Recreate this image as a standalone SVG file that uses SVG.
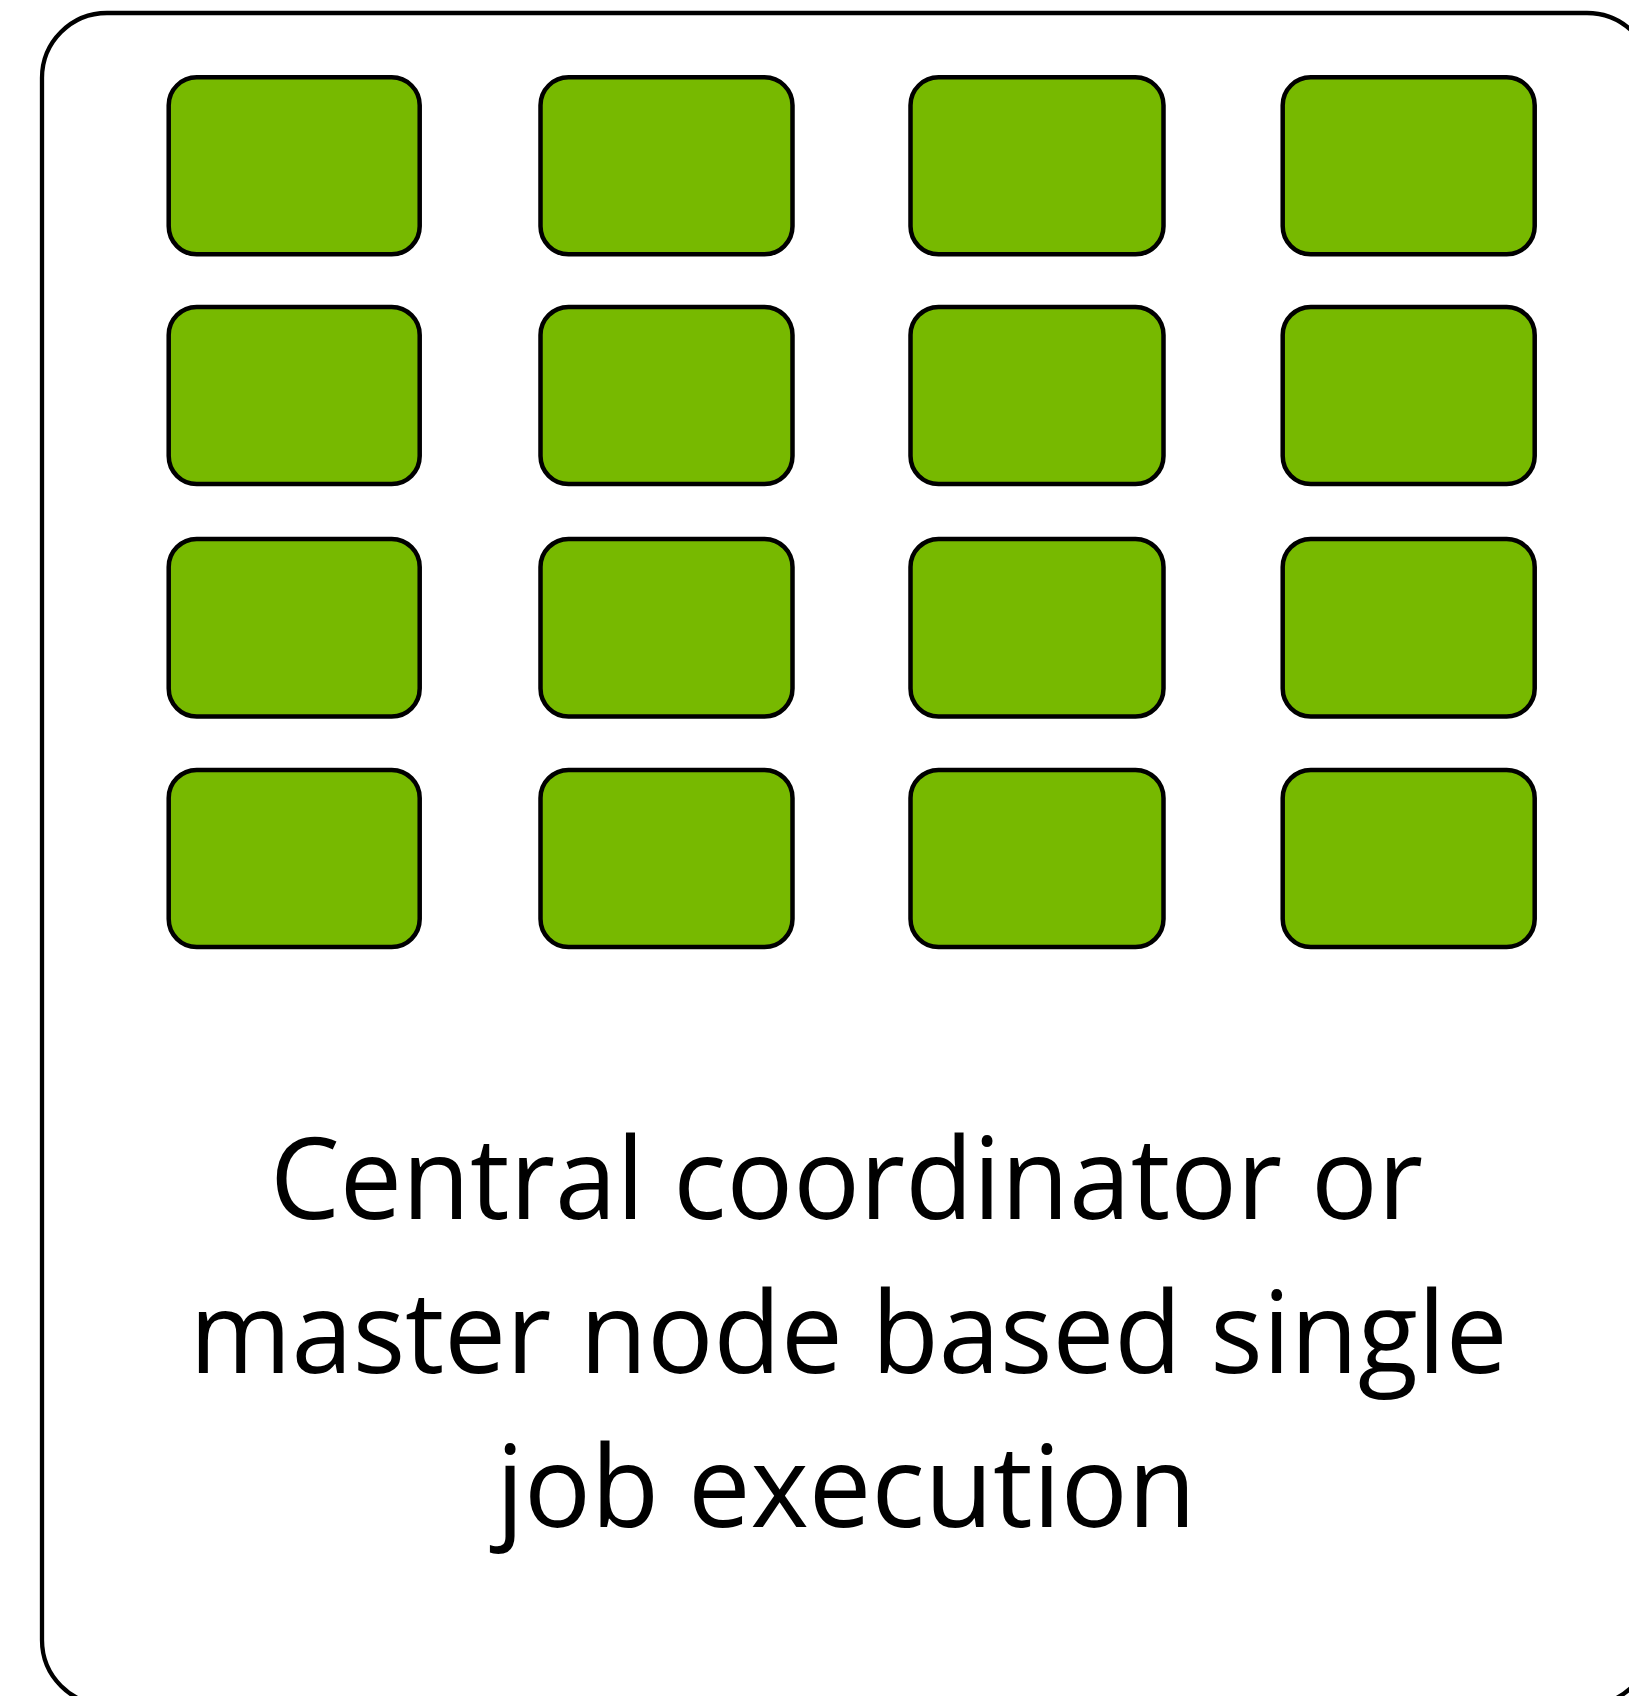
<svg xmlns="http://www.w3.org/2000/svg" width="1629" height="1696" viewBox="0 0 1629 1696">
<style>
.node{fill:#77b900;stroke:#000;stroke-width:4.5}
.frame{fill:#fff;stroke:#000;stroke-width:4.3}
.label{font-family:"Open Sans","Noto Sans",sans-serif;font-size:114px;fill:#000;text-anchor:middle}
</style>
<rect width="1629" height="1696" fill="#fff"/>
<g id="frame"><rect class="frame" x="42" y="13" width="1610" height="1692" rx="65" ry="65"/></g>
<g id="connectors"></g>
<g id="n11"><rect class="node" x="168.7" y="77.3" width="251" height="177" rx="28"/></g>
<g id="n12"><rect class="node" x="540.5" y="77.3" width="252" height="177" rx="28"/></g>
<g id="n13"><rect class="node" x="910.5" y="77.3" width="253" height="177" rx="28"/></g>
<g id="n14"><rect class="node" x="1282.7" y="77.3" width="252" height="177" rx="28"/></g>
<g id="n21"><rect class="node" x="168.7" y="307" width="251" height="177" rx="28"/></g>
<g id="n22"><rect class="node" x="540.5" y="307" width="252" height="177" rx="28"/></g>
<g id="n23"><rect class="node" x="910.5" y="307" width="253" height="177" rx="28"/></g>
<g id="n24"><rect class="node" x="1282.7" y="307" width="252" height="177" rx="28"/></g>
<g id="n31"><rect class="node" x="168.7" y="539" width="251" height="177.5" rx="28"/></g>
<g id="n32"><rect class="node" x="540.5" y="539" width="252" height="177.5" rx="28"/></g>
<g id="n33"><rect class="node" x="910.5" y="539" width="253" height="177.5" rx="28"/></g>
<g id="n34"><rect class="node" x="1282.7" y="539" width="252" height="177.5" rx="28"/></g>
<g id="n41"><rect class="node" x="168.7" y="770" width="251" height="177" rx="28"/></g>
<g id="n42"><rect class="node" x="540.5" y="770" width="252" height="177" rx="28"/></g>
<g id="n43"><rect class="node" x="910.5" y="770" width="253" height="177" rx="28"/></g>
<g id="n44"><rect class="node" x="1282.7" y="770" width="252" height="177" rx="28"/></g>
<g id="caption">
<text class="label" x="846.5" y="1219" textLength="1153" lengthAdjust="spacingAndGlyphs">Central coordinator or</text>
<text class="label" x="848.5" y="1373" textLength="1318" lengthAdjust="spacingAndGlyphs">master node based single</text>
<text class="label" x="846" y="1527" textLength="700" lengthAdjust="spacingAndGlyphs">job execution</text>
</g>
</svg>
